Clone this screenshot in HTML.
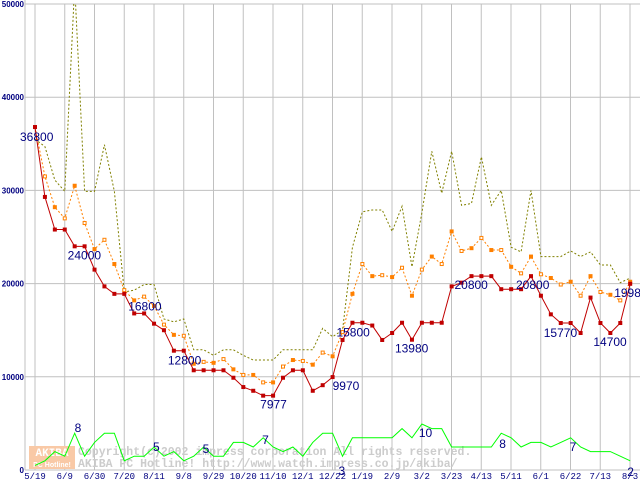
<!DOCTYPE html>
<html><head><meta charset="utf-8"><style>
html,body{margin:0;padding:0;background:#fff;}
svg{display:block;}
</style></head><body>
<svg id="chart" width="640" height="480" xmlns="http://www.w3.org/2000/svg" font-family="Liberation Sans, sans-serif"></svg>
<script>
const xLabels=["5/19","6/9","6/30","7/20","8/11","9/8","9/29","10/20","11/10","12/1","12/22","1/19","2/9","3/2","3/23","4/13","5/11","6/1","6/22","7/13","8/3"];
const yTicks=[0,10000,20000,30000,40000,50000];
const minPrice=[36800,29300,25800,25800,24000,24000,21500,19700,18900,18900,16800,16800,15700,15000,12800,12800,10700,10700,10700,10700,9900,8900,8500,7977,7977,9900,10700,10700,8500,9100,9970,13950,15800,15800,15500,13950,14700,15800,13980,15800,15800,15800,19700,20100,20800,20800,20800,19400,19400,19400,20800,18700,16700,15770,15770,14700,18500,15770,14700,15770,19980];
const avgPrice=[36800,31500,28200,27000,30500,26500,23700,24700,22100,19300,18200,18600,17600,15600,14500,14400,11400,11600,11500,11900,10800,10200,10200,9400,9400,11100,11800,11700,11300,12600,12200,14800,18900,22100,20800,20900,20700,21700,18700,21500,22900,22100,25600,23500,23800,24900,23600,23600,21800,21100,22900,21000,20600,19900,20200,18700,20800,19100,18800,18200,20200];
const maxPrice=[35500,34700,31100,29900,52000,29900,29900,34900,29900,19100,19300,19900,19900,16200,15900,16200,12900,12900,12300,12900,12900,12300,11800,11800,11800,12900,12900,12900,12900,15200,14300,15000,23900,27700,27900,27900,25600,28300,21800,27600,34200,29700,34200,28400,28600,33600,28400,30000,23900,23400,30000,22900,22900,22900,23500,22900,23400,22000,22000,20100,20600];
const shopCount=[1,2,4,3,8,3,6,8,8,2,3,3,5,3,4,2,3,5,3,3,6,6,5,7,5,4,5,3,6,8,8,3,7,7,7,7,7,9,7,10,9,9,5,5,5,5,5,8,7,5,6,6,5,6,7,5,4,4,4,3,2];
const priceLabels=[[0,36800,-15,14],[4,24000,-7,13],[10,16800,-6,-3],[14,12800,-6,14],[23,7977,-3,13],[30,9970,0,13],[32,15800,-16,14],[38,13980,-17,13],[44,20800,-17,13],[50,20800,-15,13],[53,15770,-17,14],[58,14700,-17,13],[60,19980,-16,13]];
const countLabels=[[4,8,0,-1],[12,5,-1,4],[17,5,-1,6],[23,7,-1,6],[31,3,-4,19],[39,10,-3,13],[47,8,-2,15],[54,7,-1,13],[60,2,-3,15]];

const svg=document.getElementById('chart');
const NS='http://www.w3.org/2000/svg';
const x=i=>35+i*9.92;
const y=v=>470-v*0.00932;
const yc=n=>470-n*4.6;
function mk(tag,attrs,parent){const e=document.createElementNS(NS,tag);for(const k in attrs)e.setAttribute(k,attrs[k]);(parent||svg).appendChild(e);return e;}

const grid=mk('g',{});


mk('line',{x1:25,y1:0,x2:25,y2:470,stroke:'#c0c0c0','stroke-width':1},grid);
xLabels.forEach((l,k)=>{
  const gx=35+k*29.75;
  mk('line',{x1:gx,y1:4,x2:gx,y2:470,stroke:'#c0c0c0','stroke-width':1},grid);
  const t=mk('text',{x:gx,y:479,'font-size':9,fill:'#000080','text-anchor':'middle','font-family':'Liberation Mono, monospace'});
  t.textContent=l;
  
  
});
yTicks.forEach(v=>{
  mk('line',{x1:25,y1:y(v),x2:640,y2:y(v),stroke:'#c0c0c0','stroke-width':1},grid);
  const t=mk('text',{x:24,y:y(v)+3,'font-size':8,'font-weight':'bold',fill:'#000080','text-anchor':'end'});
  t.textContent=v;
  
  
});

const wm=mk('g',{});


mk('rect',{x:29,y:446,width:46,height:23,fill:'#f9c9a6'},wm);
const a1=mk('text',{x:52,y:456,'font-size':11,'font-weight':'bold',fill:'#fff','text-anchor':'middle','font-family':'Liberation Mono, monospace'},wm);a1.textContent='AKIBA';
const a2=mk('text',{x:52,y:467,'font-size':7,'font-weight':'bold',fill:'#fff','text-anchor':'middle'},wm);a2.textContent='PC Hotline!';
const w1=mk('text',{x:78,y:455,'font-size':11.5,'font-weight':'bold',fill:'#cccccc','font-family':'Liberation Mono, monospace'},wm);w1.textContent='Copyright(c)2002 impress corporation All rights reserved.';
const w2=mk('text',{x:78,y:467,'font-size':11.5,'font-weight':'bold',fill:'#cccccc','font-family':'Liberation Mono, monospace'},wm);w2.textContent='AKIBA PC Hotline!  http://www.watch.impress.co.jp/akiba/';

const clip=mk('clipPath',{id:'pc'});mk('rect',{x:25,y:4,width:615,height:470},clip);

function series(data,fy,color,dash,name){
  const p=mk('polyline',{points:data.map((v,i)=>x(i)+','+fy(v)).join(' '),fill:'none',stroke:color,'stroke-width':1,'stroke-dasharray':dash||'none','clip-path':'url(#pc)'});
  
  
  return p;
}
series(maxPrice,y,'#808000','2,2','max-price-line');
series(avgPrice,y,'#ff8000','2,2','avg-price-line');
avgPrice.forEach((v,i)=>{
  const r=mk('rect',{x:x(i)-1.5,y:y(v)-1.5,width:3,height:3,fill:i%2?'#fff':'#ff8000',stroke:'#ff8000','stroke-width':1});
  
  
});
series(minPrice,y,'#c00000',null,'min-price-line');
minPrice.forEach((v,i)=>{
  const r=mk('rect',{x:x(i)-2,y:y(v)-2,width:4,height:4,fill:'#c00000'});
  
  
});
series(shopCount,yc,'#00ff00',null,'shop-count-line');

priceLabels.forEach(([i,v,dx,dy])=>{
  const t=mk('text',{x:x(i)+dx,y:y(minPrice[i])+dy,'font-size':12,fill:'#000080'});
  t.textContent=v;
  
  
});
countLabels.forEach(([i,v,dx,dy])=>{
  const t=mk('text',{x:x(i)+dx,y:yc(shopCount[i])+dy,'font-size':12,fill:'#000080'});
  t.textContent=v;
  
  
});
</script>
</body></html>
